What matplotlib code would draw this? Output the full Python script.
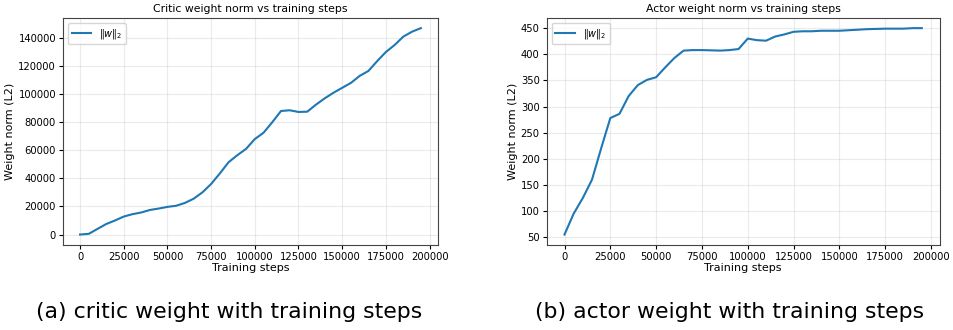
import matplotlib
matplotlib.use("Agg")
import matplotlib.pyplot as plt

steps = list(range(0, 200000, 5000))

critic_norm = [0, 500, 4000, 7500, 10000, 12800, 14500, 15700, 17500, 18500,
               19700, 20500, 22500, 25500, 30000, 36000, 43500, 51500, 56500, 61000,
               68000, 72500, 80000, 88000, 88500, 87300, 87500, 92500, 97000, 101000,
               104500, 108000, 113000, 116500, 123500, 130000, 135000, 141000, 144500, 147000]

actor_norm = [55, 95, 125, 160, 220, 278, 286, 320, 341, 351,
              356, 375, 393, 407, 408, 408, 407.5, 407, 408, 410,
              430, 427, 426, 434, 438, 443, 444, 444, 445, 445,
              445, 446, 447, 448, 448.5, 449, 449, 449, 450, 450]

titles = ["Critic weight norm vs training steps", "Actor weight norm vs training steps"]
captions = ["(a) critic weight with training steps", "(b) actor weight with training steps"]
series = [critic_norm, actor_norm]

fig = plt.figure(figsize=(9.54, 3.30), dpi=100)
boxes = [[0.066, 0.258, 0.393, 0.688], [0.573, 0.258, 0.412, 0.688]]
caption_x = [0.24, 0.765]

for box, title, values, cap, cx in zip(boxes, titles, series, captions, caption_x):
    ax = fig.add_axes(box)
    ax.plot(steps, values, color="#1f77b4", linewidth=1.5, label=r"$\|w\|_2$")
    ax.set_title(title, fontsize=7.8, pad=4)
    ax.set_xlabel("Training steps", fontsize=8, labelpad=1)
    ax.set_ylabel("Weight norm (L2)", fontsize=8, labelpad=2)
    ax.tick_params(labelsize=7.2, length=3, pad=2)
    ax.set_xticks([0, 25000, 50000, 75000, 100000, 125000, 150000, 175000, 200000])
    ax.grid(True, alpha=0.25)
    ax.legend(loc="upper left", fontsize=7, handlelength=2.0)
    for s in ax.spines.values():
        s.set_color("#444444")
    fig.text(cx, 0.055, cap, ha="center", va="center", fontsize=15.8)

ax0 = fig.axes[0]
ax0.set_yticks(range(0, 140001, 20000))

fig.savefig("out.png", dpi=100)
